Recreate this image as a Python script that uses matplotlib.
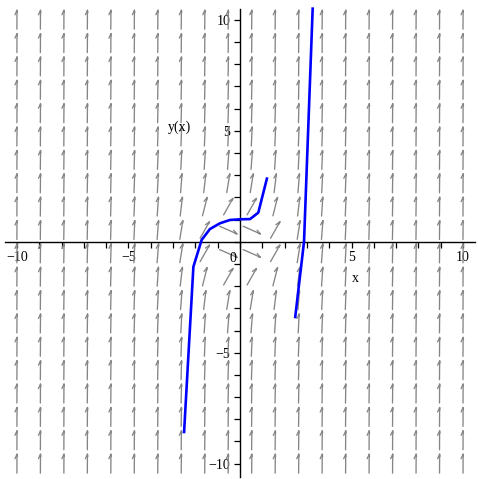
import numpy as np
import matplotlib
matplotlib.use("Agg")
import matplotlib.pyplot as plt
from matplotlib.collections import LineCollection

# Direction field grid (Maple DEplot default 20x20) for dy/dx = x^2 + y^2 - 1
grid_x = np.linspace(-10, 10, 20)
grid_y = np.linspace(-10, 10, 20)

def slope(x, y):
    return x**2 + y**2 - 1

# Solution curves
curve1_x = [-2.51, -2.09, -1.72, -1.35, -0.90, -0.45, 0.00, 0.45, 0.82, 1.22]
curve1_y = [-8.63, -1.13, 0.08, 0.57, 0.83, 0.98, 1.01, 1.02, 1.31, 2.90]
curve2_x = [2.47, 2.87, 3.26]
curve2_y = [-3.45, 0.00, 10.56]

xticks_major = [-10, -5, 5, 10]
yticks_major = [-10, -5, 5, 10]
ticks_minor = list(range(-10, 11))

fig = plt.figure(figsize=(4.78, 4.79), dpi=100)
ax = fig.add_axes([0, 0, 1, 1])
ax.set_xlim(-10.76, 10.67)
ax.set_ylim(-10.69, 10.89)
ax.set_facecolor("white")

# direction field: half-headed (harpoon) arrows centred on grid points
X, Y = np.meshgrid(grid_x, grid_y)
S = slope(X, Y)
L = 0.85
nrm = np.sqrt(1 + S**2)
dx = 1 / nrm
dy = S / nrm
cx, cy = X.ravel(), Y.ravel()
dx, dy = dx.ravel(), dy.ravel()
tail = np.stack([cx - dx * L / 2, cy - dy * L / 2], axis=1)
tip = np.stack([cx + dx * L / 2, cy + dy * L / 2], axis=1)
hl, hw = 0.2, 0.09
# left barb (perpendicular = (-dy, dx))
barbL = np.stack([tip[:, 0] - dx * hl - dy * hw, tip[:, 1] - dy * hl + dx * hw], axis=1)
barbR = np.stack([tip[:, 0] - dx * hl * 0.5 + dy * hw * 0.2,
                  tip[:, 1] - dy * hl * 0.5 - dx * hw * 0.2], axis=1)
segs = [np.array([t, p]) for t, p in zip(tail, tip)]
segs += [np.array([p, b]) for p, b in zip(tip, barbL)]
segs += [np.array([p, b]) for p, b in zip(tip, barbR)]
ax.add_collection(LineCollection(segs, colors="#858585", linewidths=0.95, zorder=2,
                                 capstyle="round"))

# solution curves
ax.plot(curve1_x, curve1_y, color="#0000ff", lw=1.9, zorder=4, solid_capstyle="butt")
ax.plot(curve2_x, curve2_y, color="#0000ff", lw=1.9, zorder=4, solid_capstyle="butt")

# axes through origin
for s in ["top", "right"]:
    ax.spines[s].set_visible(False)
ax.spines["left"].set_position(("data", 0))
ax.spines["bottom"].set_position(("data", 0))
ax.spines["left"].set_bounds(-10.6, 10.5)
ax.spines["bottom"].set_bounds(-10.55, 10.53)
for s in ["left", "bottom"]:
    ax.spines[s].set_linewidth(1.0)
    ax.spines[s].set_color("black")
    ax.spines[s].set_zorder(3)

ax.set_xticks(xticks_major)
ax.set_yticks(yticks_major)
ax.set_xticks(ticks_minor, minor=True)
ax.set_yticks(ticks_minor, minor=True)
ax.set_xticklabels([str(t) if t > 0 else "\u2212" + str(-t) for t in xticks_major])
ax.set_yticklabels([str(t) if t > 0 else "\u2212" + str(-t) for t in yticks_major])
ax.tick_params(which="both", direction="out", length=4, width=0.9, color="black")
ax.tick_params(axis="both", labelsize=10, pad=3)
for lab in ax.get_xticklabels() + ax.get_yticklabels():
    lab.set_family("Liberation Serif")

ax.text(-0.3, -0.75, "0", fontsize=10, family="Liberation Serif", ha="center", va="center")
ax.text(5.16, -1.64, "x", fontsize=10, family="Liberation Serif", ha="center", va="center")
ax.text(-2.7, 5.15, "y(x)", fontsize=10, family="Liberation Serif", ha="center", va="center")

fig.savefig("out.png", dpi=100, facecolor="white")
